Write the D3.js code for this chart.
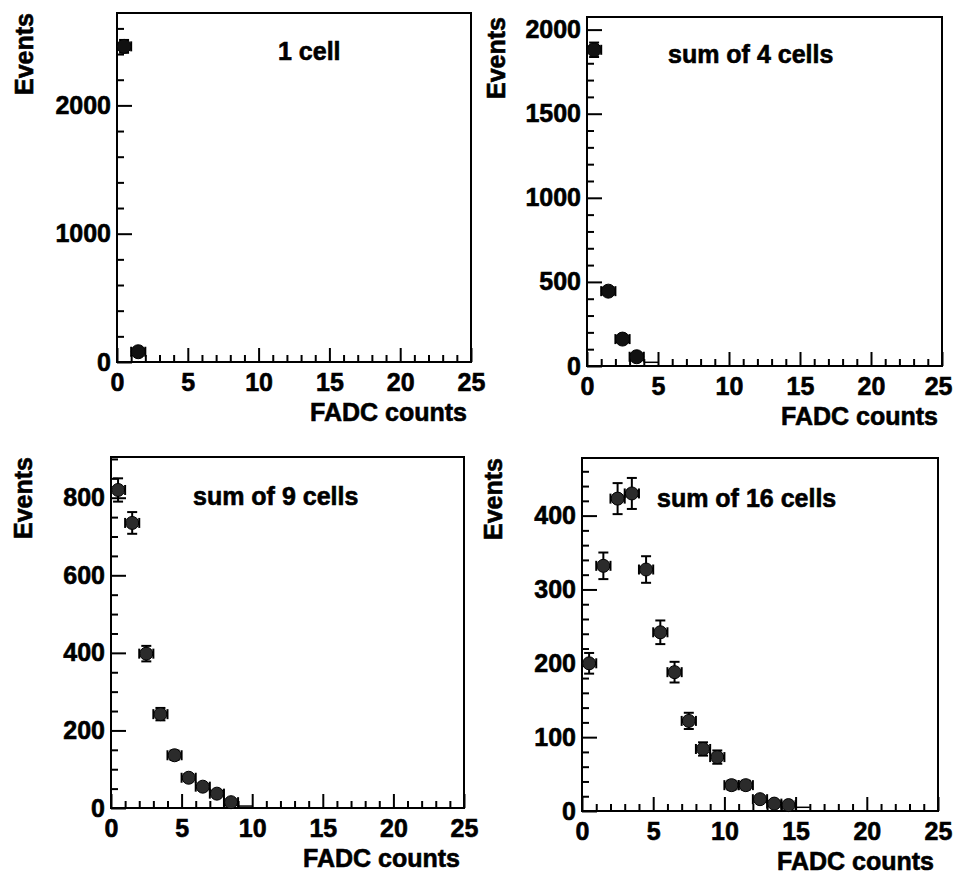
<!DOCTYPE html>
<html>
<head>
<meta charset="utf-8">
<script src="https://cdn.jsdelivr.net/npm/d3@7"></script>
<style>
  html, body { margin: 0; padding: 0; background: #fff; }
  svg text { font-family: "Liberation Sans", Arial, Helvetica, sans-serif; font-weight: bold; fill: #000; stroke: #000; stroke-width: 0.6px; }
</style>
</head>
<body>
<svg id="chart" width="954" height="876"></svg>
<script>
// ---------------- data ----------------
const xTickLabels = [0, 5, 10, 15, 20, 25];
const xLabel = "FADC counts";
const yLabel = "Events";

// panel 1: 1 cell
const cell1Title = "1 cell";
const cell1X = [0.5, 1.5];
const cell1Values = [2460, 80];
const cell1Errors = [50, 9];
const cell1YTicks = [0, 1000, 2000];

// panel 2: sum of 4 cells
const cell4Title = "sum of 4 cells";
const cell4X = [0.5, 1.5, 2.5, 3.5];
const cell4Values = [1880, 445, 160, 55];
const cell4Errors = [43, 21, 13, 7];
const cell4Tail = [[4.5, 22]];
const cell4YTicks = [0, 500, 1000, 1500, 2000];

// panel 3: sum of 9 cells
const cell9Title = "sum of 9 cells";
const cell9X = [0.5, 1.5, 2.5, 3.5, 4.5, 5.5, 6.5, 7.5, 8.5];
const cell9Values = [820, 735, 398, 242, 136, 78, 55, 37, 15];
const cell9Errors = [30, 28, 20, 16, 12, 9, 7, 6, 4];
const cell9Tail = [[9.5, 5]];
const cell9YTicks = [0, 200, 400, 600, 800];

// panel 4: sum of 16 cells
const cell16Title = "sum of 16 cells";
const cell16X = [0.5, 1.5, 2.5, 3.5, 4.5, 5.5, 6.5, 7.5, 8.5, 9.5, 10.5, 11.5, 12.5, 13.5, 14.5];
const cell16Values = [200, 332, 423, 430, 327, 242, 188, 122, 84, 73, 35, 35, 16, 10, 8];
const cell16Errors = [14, 18, 21, 21, 18, 16, 14, 11, 9, 9, 6, 6, 4, 3, 3];
const cell16Tail = [[15.5, 5]];
const cell16YTicks = [0, 100, 200, 300, 400];

// ---------------- layout ----------------
const panels = [
  { title: cell1Title, xs: cell1X, vals: cell1Values, errs: cell1Errors, tail: [],
    yTicks: cell1YTicks, yMinorStep: 200, yMax: 2720,
    left: 117, right: 471, top: 13, bottom: 362, titleX: 278, titleY: 60, evX: 33, r: 7, fill: "#111" },
  { title: cell4Title, xs: cell4X, vals: cell4Values, errs: cell4Errors, tail: cell4Tail,
    yTicks: cell4YTicks, yMinorStep: 100, yMax: 2075,
    left: 587, right: 942, top: 17, bottom: 366, titleX: 668, titleY: 63, evX: 505, r: 7, fill: "#111" },
  { title: cell9Title, xs: cell9X, vals: cell9Values, errs: cell9Errors, tail: cell9Tail,
    yTicks: cell9YTicks, yMinorStep: 50, yMax: 905,
    left: 111, right: 464, top: 457, bottom: 808, titleX: 193, titleY: 505, evX: 32, r: 6.5, fill: "#2b2b2b" },
  { title: cell16Title, xs: cell16X, vals: cell16Values, errs: cell16Errors, tail: cell16Tail,
    yTicks: cell16YTicks, yMinorStep: 20, yMax: 478,
    left: 582, right: 938, top: 458, bottom: 811, titleX: 657, titleY: 507, evX: 502, r: 6.5, fill: "#2b2b2b" }
];

const svg = d3.select("#chart");
const FONT = 25;
const W = 954;

panels.forEach(p => {
  const g = svg.append("g");
  const x = d3.scaleLinear().domain([0, 25]).range([p.left, p.right]);
  const y = d3.scaleLinear().domain([0, p.yMax]).range([p.bottom, p.top]);

  // frame
  g.append("rect")
    .attr("x", p.left).attr("y", p.top)
    .attr("width", p.right - p.left).attr("height", p.bottom - p.top)
    .attr("fill", "none").attr("stroke", "#000").attr("stroke-width", 2);

  // x axis (major + minor, ticks pointing inward)
  const xMajor = d3.axisBottom(x).tickValues(xTickLabels).tickSizeInner(-14).tickSizeOuter(0).tickPadding(11).tickFormat(d3.format("d"));
  const gx = g.append("g").attr("transform", `translate(0,${p.bottom})`).call(xMajor);
  gx.select(".domain").remove();
  gx.selectAll("line").attr("stroke", "#000").attr("stroke-width", 2);
  gx.selectAll("text").attr("font-size", FONT).attr("font-family", null).attr("fill", "#000");
  // keep the last label inside the page
  gx.selectAll(".tick").each(function(d) {
    const t = d3.select(this).select("text");
    const w = t.node().getComputedTextLength();
    const right = x(d) + w / 2;
    if (right > W - 2) t.attr("x", (W - 2) - right);
  });

  const xMinorVals = d3.range(0, 26, 1).filter(v => v % 5 !== 0);
  const gxm = g.append("g").attr("transform", `translate(0,${p.bottom})`)
    .call(d3.axisBottom(x).tickValues(xMinorVals).tickSizeInner(-7).tickSizeOuter(0).tickFormat(""));
  gxm.select(".domain").remove();
  gxm.selectAll("line").attr("stroke", "#000").attr("stroke-width", 2);

  // y axis
  const yMajor = d3.axisLeft(y).tickValues(p.yTicks).tickSizeInner(-15).tickSizeOuter(0).tickPadding(6).tickFormat(d3.format("d"));
  const gy = g.append("g").attr("transform", `translate(${p.left},0)`).call(yMajor);
  gy.select(".domain").remove();
  gy.selectAll("line").attr("stroke", "#000").attr("stroke-width", 2);
  gy.selectAll("text").attr("font-size", FONT).attr("font-family", null).attr("fill", "#000");

  const yMinorVals = d3.range(0, p.yMax, p.yMinorStep).filter(v => !p.yTicks.includes(v));
  const gym = g.append("g").attr("transform", `translate(${p.left},0)`)
    .call(d3.axisLeft(y).tickValues(yMinorVals).tickSizeInner(-7).tickSizeOuter(0).tickFormat(""));
  gym.select(".domain").remove();
  gym.selectAll("line").attr("stroke", "#000").attr("stroke-width", 2);

  // axis titles
  g.append("text").attr("x", p.right - 4).attr("y", p.bottom + 59)
    .attr("text-anchor", "end").attr("font-size", FONT).text(xLabel);
  g.append("text").attr("transform", `translate(${p.evX},${p.top}) rotate(-90)`)
    .attr("text-anchor", "end").attr("font-size", FONT).text(yLabel);

  // panel title
  g.append("text").attr("x", p.titleX).attr("y", p.titleY).attr("font-size", FONT).text(p.title);

  // data
  const pts = p.xs.map((xv, i) => ({ x: xv, v: p.vals[i], e: p.errs[i] }));
  const cap = 5;
  const pg = g.append("g").attr("stroke", "#000").attr("stroke-width", 2);
  pts.forEach(d => {
    const cx = x(d.x), cy = y(d.v);
    const x0 = x(d.x - 0.5), x1 = x(d.x + 0.5);
    const yTop = y(d.v + d.e), yBot = y(Math.max(0, d.v - d.e));
    pg.append("line").attr("x1", x0).attr("x2", x1).attr("y1", cy).attr("y2", cy);
    pg.append("line").attr("x1", x0).attr("x2", x0).attr("y1", cy - cap).attr("y2", cy + cap);
    pg.append("line").attr("x1", x1).attr("x2", x1).attr("y1", cy - cap).attr("y2", cy + cap);
    pg.append("line").attr("x1", cx).attr("x2", cx).attr("y1", yTop).attr("y2", yBot);
    pg.append("line").attr("x1", cx - cap).attr("x2", cx + cap).attr("y1", yTop).attr("y2", yTop);
    pg.append("line").attr("x1", cx - cap).attr("x2", cx + cap).attr("y1", yBot).attr("y2", yBot);
  });
  p.tail.forEach(t => {
    pg.append("line").attr("x1", x(t[0] - 0.5)).attr("x2", x(t[0] + 0.5))
      .attr("y1", y(t[1])).attr("y2", y(t[1])).attr("stroke-width", 1.5);
  });
  g.append("g").selectAll("circle").data(pts).join("circle")
    .attr("cx", d => x(d.x)).attr("cy", d => y(d.v)).attr("r", p.r)
    .attr("fill", p.fill).attr("stroke", "#000").attr("stroke-width", 1);
});
</script>
</body>
</html>
